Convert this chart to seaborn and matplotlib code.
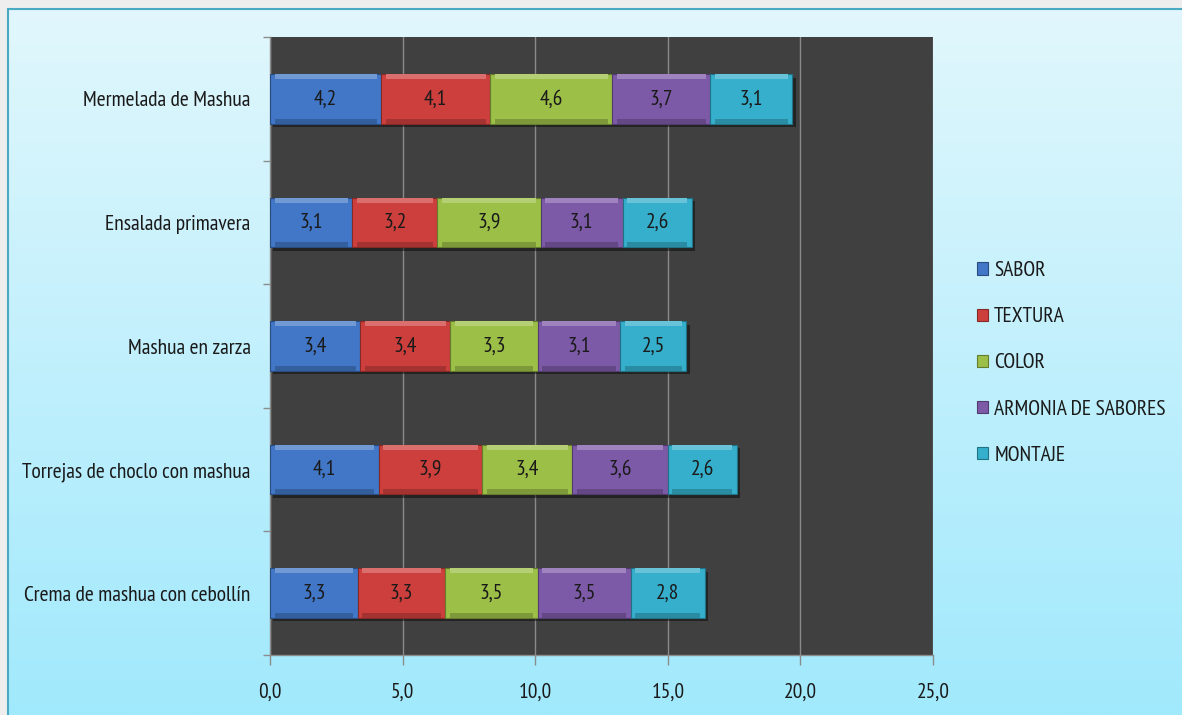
import numpy as np
import pandas as pd
import matplotlib
matplotlib.use("Agg")
import matplotlib.pyplot as plt
import matplotlib.patheffects as pe
from matplotlib.patches import Rectangle
from matplotlib.ticker import FixedLocator, FuncFormatter
import matplotlib.colors as mcolors
import seaborn as sns

# --- data -------------------------------------------------------------
platos = [
    "Mermelada de Mashua",
    "Ensalada primavera",
    "Mashua en zarza",
    "Torrejas de choclo con mashua",
    "Crema de mashua con cebollín",
]
criterios = ["SABOR", "TEXTURA", "COLOR", "ARMONIA DE SABORES", "MONTAJE"]
sabor = [4.2, 3.1, 3.4, 4.1, 3.3]
textura = [4.1, 3.2, 3.4, 3.9, 3.3]
color_ = [4.6, 3.9, 3.3, 3.4, 3.5]
armonia = [3.7, 3.1, 3.1, 3.6, 3.5]
montaje = [3.1, 2.6, 2.5, 2.6, 2.8]
x_ticks = [0, 5, 10, 15, 20, 25]

colores = ["#4177c6", "#cd3f3c", "#9cbf47", "#7d5aa8", "#35afcc"]

# --- style ------------------------------------------------------------
sns.set_theme(style="white")
plt.rcParams["font.family"] = ["PT Sans Narrow", "DejaVu Sans"]
FS = 15.5
TXT = "#1a1a1a"

W, H = 1182, 715
fig = plt.figure(figsize=(W / 100, H / 100), dpi=100)
fig.patch.set_facecolor("#eeeeee")

# gradient panel behind the chart
bg = fig.add_axes([8 / W, 0, 1 - 8 / W, 1 - 9 / H], zorder=-5)
grad = np.linspace(0, 1, 256).reshape(-1, 1)
cmap = mcolors.LinearSegmentedColormap.from_list("fondo", ["#e1f7fd", "#a1e9fc"])
bg.imshow(grad, aspect="auto", cmap=cmap, extent=[0, 1, 0, 1], origin="upper")
bg.set_axis_off()
fig.patches.append(Rectangle((8 / W, -0.01), 1.0, 1 - 9 / H + 0.01,
                             transform=fig.transFigure, fill=False,
                             edgecolor="#4aaac4", linewidth=1.5, zorder=-4))

ax = fig.add_axes([270 / W, 1 - 655 / H, 663 / W, 618 / H])
ax.set_facecolor("#404040")

def tono(c, f):
    r, g, b = mcolors.to_rgb(c)
    if f >= 0:
        return (r + (1 - r) * f, g + (1 - g) * f, b + (1 - b) * f)
    return (r * (1 + f), g * (1 + f), b * (1 + f))

series = [sabor, textura, color_, armonia, montaje]
left = np.zeros(len(platos))
sombra = [pe.SimplePatchShadow(offset=(2.5, -2.5), shadow_rgbFace="black", alpha=0.45), pe.Normal()]
for nombre, vals, col in zip(criterios, series, colores):
    n0 = len(ax.patches)
    sns.barplot(x=vals, y=platos, order=platos, orient="y", color=col,
                saturation=1, width=0.4, errorbar=None, left=left.copy(),
                edgecolor=tono(col, -0.35), linewidth=0.8, ax=ax, zorder=3)
    for p in ax.patches[n0:]:
        p.set_path_effects(sombra)
        x0, y0, w, h = p.get_x(), p.get_y(), p.get_width(), p.get_height()
        # bevel: light upper strip, dark lower strip
        tv = h * 0.1
        th = 0.17
        ax.add_patch(Rectangle((x0 + th, y0), w - 2 * th, tv, facecolor=tono(col, 0.25),
                               edgecolor="none", zorder=4))
        ax.add_patch(Rectangle((x0 + th, y0 + h - tv), w - 2 * th, tv, facecolor=tono(col, -0.2),
                               edgecolor="none", zorder=4))
    for i, v in enumerate(vals):
        ax.text(left[i] + v / 2, i, f"{v:.1f}".replace(".", ","), ha="center", va="center",
                fontsize=FS, color=TXT, zorder=6)
    left += np.array(vals)

ax.set_xlim(0, 25)
ax.set_ylim(len(platos) - 0.5, -0.5)
ax.xaxis.set_major_locator(FixedLocator(x_ticks))
ax.xaxis.set_major_formatter(FuncFormatter(lambda v, _: f"{v:.1f}".replace(".", ",")))
ax.grid(axis="x", color="#8a8a8a", linewidth=1.0, zorder=0)
ax.set_axisbelow(True)
ax.set_xlabel("")
ax.set_ylabel("")

for s in ["top", "right"]:
    ax.spines[s].set_visible(False)
for s in ["left", "bottom"]:
    ax.spines[s].set_color("#8c8c8c")
    ax.spines[s].set_linewidth(1.0)

ax.tick_params(axis="x", direction="out", length=7, width=1, color="#8c8c8c",
               labelsize=FS, labelcolor=TXT, pad=13, bottom=True)
ax.tick_params(axis="y", which="major", length=0, labelsize=FS, labelcolor=TXT, pad=14)
ax.yaxis.set_minor_locator(FixedLocator(np.arange(-0.5, len(platos), 1.0)))
ax.tick_params(axis="y", which="minor", direction="out", length=5, width=1,
               color="#8c8c8c", left=True)

handles = [Rectangle((0, 0), 1, 1, facecolor=c, edgecolor=tono(c, -0.35), linewidth=0.8)
           for c in colores]
fig.legend(handles, criterios, loc="center left", bbox_to_anchor=(977 / W, 1 - 363 / H),
           frameon=False, fontsize=FS, labelcolor=TXT, handlelength=0.5, handleheight=0.5,
           handletextpad=0.3, labelspacing=1.26, borderaxespad=0, borderpad=0)

fig.savefig("out.png", dpi=100, facecolor=fig.get_facecolor())
